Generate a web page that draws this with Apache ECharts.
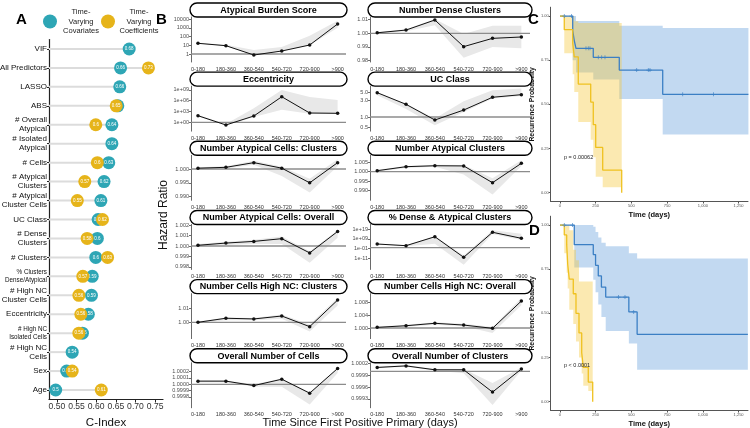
<!DOCTYPE html>
<html><head><meta charset="utf-8">
<script src="https://cdn.jsdelivr.net/npm/echarts@6/dist/echarts.min.js"></script>
<style>html,body{margin:0;padding:0;background:#fff}#c{width:750px;height:428px}</style>
</head><body><div id="c"></div><script>
// ================= DATA =================
// Panel A: C-index per predictor set
const predictors = ['VIF','All Predictors','LASSO','ABS','# Overall\nAtypical','# Isolated\nAtypical','# Cells','# Atypical\nClusters','# Atypical\nCluster Cells','UC Class','# Dense\nClusters','# Clusters','% Clusters\nDense/Atypical','# High NC\nCluster Cells','Eccentricity','# High NC\nIsolated Cells','# High NC\nCells','Sex','Age'];
const cIndexCovariates   = [0.684,0.662,0.66,0.655,0.64,0.64,0.632,0.62,0.612,0.605,0.603,0.599,0.59,0.588,0.58,0.565,0.539,0.525,0.497];
const cIndexCoefficients = [null,0.733,null,0.651,0.599,null,0.603,0.571,0.552,0.616,0.577,0.629,0.566,0.556,0.561,0.556,null,0.539,0.613];
const cIndexTicks = [0.5,0.55,0.6,0.65,0.7,0.75];

// Panel B: hazard ratios by interval
const intervals = ['0-180','180-360','360-540','540-720','720-900','>900'];
const hrABS = [16.7,8.9,0.77,2.2,10.7,2700];
const loABS = [15.8,8.5,0.74,2.1,10,1000];
const hiABS = [20,11.2,2.8,6.3,126,6300];
const ticksABS = [1,10,100,1000,10000];
const labelsABS = ['1','10','100','1000','10000'];

const hrEcc = [68,0.18,56,1.26e7,380,316];
const loEcc = [40,0.126,32,3.2e3,250,200];
const hiEcc = [126,0.316,7900,1e9,1e7,1.6e6];
const ticksEcc = [1,1e3,1e6,1e9];
const labelsEcc = ['1e+00','1e+03','1e+06','1e+09'];

const hrNACC = [1.0003,1.0006,1.0023,1.0003,0.995,1.0023];
const loNACC = [0.9998,1.0002,1.0015,0.9975,0.9915,1.001];
const hiNACC = [1.0006,1.001,1.003,1.0008,0.9965,1.0035];
const ticksNACC = [0.990,0.995,1.000];
const labelsNACC = ['0.990','0.995','1.000'];

const hrNACO = [1.00007,1.00028,1.00044,1.0007,0.99934,1.00139];
const loNACO = [0.99995,1.0001,1.0002,1.0002,0.9984,1.0008];
const hiNACO = [1.0002,1.0004,1.0006,1.0009,0.9995,1.0015];
const ticksNACO = [0.998,0.999,1.000,1.001,1.002];
const labelsNACO = ['0.998','0.999','1.000','1.001','1.002'];

const hrNCHC = [1.0,1.0029,1.0024,1.0045,0.9969,1.0159];
const loNCHC = [0.9995,1.0015,1.0015,1.0025,0.9935,1.012];
const hiNCHC = [1.0005,1.0035,1.003,1.0055,0.9985,1.0175];
const ticksNCHC = [1.00,1.01];
const labelsNCHC = ['1.00','1.01'];

const hrONC = [1.00005,1.00005,0.99998,1.00008,0.99986,1.00025];
const loONC = [1.00003,1.00003,0.99996,0.99996,0.99968,1.00018];
const hiONC = [1.00006,1.00006,1.0,1.00009,0.99988,1.00026];
const ticksONC = [0.9998,0.9999,1.0,1.0001,1.0002];
const labelsONC = ['0.9998','0.9999','1.0000','1.0001','1.0002'];

const hrNDC = [1.0004,1.0024,1.0098,0.9902,0.9963,0.9973];
const loNDC = [0.9998,1.0015,1.006,0.982,0.99,0.989];
const hiNDC = [1.001,1.003,1.0105,0.9995,1.0055,1.0055];
const ticksNDC = [0.98,0.99,1.00,1.01];
const labelsNDC = ['0.98','0.99','1.00','1.01'];

const hrUC = [4.95,2.3,0.82,1.58,3.66,4.34];
const loUC = [4.2,1.7,0.58,1.4,3.4,4.0];
const hiUC = [5.1,2.4,0.9,2.8,5.8,6.5];
const ticksUC = [0.5,1,3,5];
const labelsUC = ['0.5','1.0','3.0','5.0'];

const hrNACl = [1.00054,1.0027,1.0032,1.0031,0.99409,1.0045];
const loNACl = [1.0,1.002,1.0027,0.9985,0.9878,1.003];
const hiNACl = [1.001,1.003,1.0037,1.0036,0.9965,1.0062];
const ticksNACl = [0.990,0.995,1.000,1.005];
const labelsNACl = ['0.990','0.995','1.000','1.005'];

const hrPDA = [6.3e3,126,2e11,1.26e-10,7.9e15,5e9];
const loPDA = [2e3,32,1e4,3.2e-18,1e14,1e8];
const hiPDA = [2e4,400,1e12,1e-8,1e18,3.2e14];
const ticksPDA = [1e-11,1e-1,1e9,1e19];
const labelsPDA = ['1e-11','1e-01','1e+09','1e+19'];

const hrNCHO = [1.0002,1.0007,1.00145,1.0009,0.9999,1.0083];
const loNCHO = [0.9999,1.0004,1.001,1.0005,0.9985,1.007];
const hiNCHO = [1.0004,1.001,1.0018,1.0013,1.0003,1.0092];
const ticksNCHO = [1.000,1.004,1.008];
const labelsNCHO = ['1.000','1.004','1.008'];

const hrONCl = [1.0001,1.00014,1.00004,1.00004,0.99947,1.00006];
const loONCl = [1.00008,1.00012,1.00002,0.99995,0.99914,1.00002];
const hiONCl = [1.00012,1.00016,1.00006,1.00006,0.9997,1.0001];
const ticksONCl = [0.9993,0.9996,0.9999,1.0002];
const labelsONCl = ['0.9993','0.9996','0.9999','1.0002'];

// Panels C & D: Kaplan-Meier curves
const kmTicksX = [0,250,500,750,1000,1250];
const kmTicksY = [0,0.25,0.5,0.75,1];
const cBlueT = [0,89,100,112,233,415,719,1319];
const cBlueS = [1,0.917,0.861,0.817,0.766,0.694,0.557,0.557];
const cBlueCensor = [30,80,182,198,210,268,292,315,537,618,630,859,1074];
const cBlueBandT = [89,112,233,415,719,1319];
const cBlueBandLo = [0.75,0.68,0.64,0.53,0.33];
const cBlueBandHi = [1.0,0.972,0.972,0.945,0.932];
const cYellowT = [0,30,89,100,128,215,233,250,299,432];
const cYellowS = [1,0.923,0.846,0.769,0.615,0.513,0.385,0.256,0.128,0];
const cYellowBandT = [30,89,100,128,215,233,250,299,432];
const cYellowBandLo = [0.79,0.67,0.57,0.4,0.3,0.2,0.09,0.03];
const cYellowBandHi = [1.0,1.0,0.97,0.96,0.96,0.96,0.96,0.96];

const dBlueT = [0,100,233,249,268,290,320,482,540,1315];
const dBlueS = [1,0.889,0.833,0.772,0.712,0.649,0.592,0.508,0.381,0.381];
const dBlueCensor = [30,87,410,455,516];
const dBlueBandT = [100,233,249,268,290,320,482,540,1315];
const dBlueBandLo = [0.76,0.69,0.62,0.55,0.48,0.40,0.33,0.18];
const dBlueBandHi = [1.0,0.99,0.96,0.93,0.90,0.88,0.84,0.81];
const dYellowT = [0,30,47,54,65,93,112,133,152,163,198,229];
const dYellowS = [1,0.944,0.889,0.778,0.694,0.611,0.5,0.389,0.278,0.194,0.111,0];
const dYellowBandT = [30,47,54,65,93,112,133,152,163,198,229];
const dYellowBandLo = [0.84,0.73,0.64,0.52,0.44,0.34,0.25,0.16,0.09,0.06];
const dYellowBandHi = [1,1,1,0.97,0.86,0.8,0.68,0.68,0.68,0.68];

// ================= BUILD =================
const FONT = '"Liberation Sans", Arial, Helvetica, sans-serif';
const TEAL = '#2ea6b5', GOLD = '#e6b41a';
const KM_BLUE = '#3b7fc4', KM_YEL = '#efc11f';
const chart = echarts.init(document.getElementById('c'), null, {renderer:'canvas'});
const grids = [], xAxes = [], yAxes = [], series = [], graphics = [];

function labeler(vals, labels){
  return function(v){
    for (let i=0;i<vals.length;i++){ if (Math.abs(vals[i]-v) <= Math.abs(vals[i])*1e-7+1e-14) return labels[i]; }
    const p = Math.pow(10, v);
    for (let i=0;i<vals.length;i++){ if (Math.abs(vals[i]-p) <= Math.abs(vals[i])*1e-6) return labels[i]; }
    return '';
  };
}
function fmt2(v){ return String(Math.round(v*100)/100); }

// ---------- Panel A ----------
grids.push({left:49, top:39.5, width:114, height:360, outerBoundsMode:'none'});
xAxes.push({type:'value', gridIndex:0, min:0.48, max:0.77,
  axisLine:{show:true, onZero:false, lineStyle:{color:'#222', width:1.2}},
  axisTick:{show:true, length:3, customValues:cIndexTicks, lineStyle:{color:'#222'}},
  axisLabel:{customValues:cIndexTicks, formatter:v=>v.toFixed(2), fontSize:8.6, color:'#333', margin:3, fontFamily:FONT, hideOverlap:false},
  splitLine:{show:false},
  name:'C-Index', nameLocation:'middle', nameGap:17, nameTextStyle:{fontSize:11.5, color:'#111', fontFamily:FONT}});
yAxes.push({type:'category', gridIndex:0, data:predictors, inverse:true,
  axisLine:{show:true, onZero:false, lineStyle:{color:'#222', width:1.2}},
  axisTick:{show:true, length:2, alignWithLabel:true, lineStyle:{color:'#222'}},
  axisLabel:{fontSize:8, color:'#111', margin:2, lineHeight:9, fontFamily:FONT, interval:0,
    formatter:v=> (v.indexOf('%')===0 || v.indexOf('Isolated Cells')>0) ? '{s|'+v.split('\n').join('}\n{s|')+'}' : v,
    rich:{s:{fontSize:6.3, lineHeight:7.5, fontFamily:FONT, color:'#111', align:'right'}}},
  splitLine:{show:false}});
series.push({type:'bar', xAxisIndex:0, yAxisIndex:0, silent:true, barWidth:2, clip:true,
  data:predictors.map((_,i)=>Math.max(cIndexCovariates[i], cIndexCoefficients[i]||0)),
  itemStyle:{color:'#dcdcdc'}, z:1});
series.push({type:'scatter', name:'Time-Varying Covariates', xAxisIndex:0, yAxisIndex:0,
  data:predictors.map((_,i)=>[cIndexCovariates[i], i]), symbolSize:13, itemStyle:{color:TEAL, opacity:1}, z:3,
  label:{show:true, position:'inside', formatter:p=>fmt2(p.value[0]), fontSize:4.5, color:'#fff', fontFamily:FONT}});
series.push({type:'scatter', name:'Time-Varying Coefficients', xAxisIndex:0, yAxisIndex:0,
  data:predictors.map((_,i)=>[cIndexCoefficients[i], i]).filter(d=>d[0]!==null), symbolSize:13, itemStyle:{color:GOLD, opacity:1}, z:4,
  label:{show:true, position:'inside', formatter:p=>fmt2(p.value[0]), fontSize:4.5, color:'#fff', fontFamily:FONT}});

// ---------- Panel B ----------
const bPanels = [
  {t:'Atypical Burden Score', c:0, r:0, hr:hrABS, lo:loABS, hi:hiABS, log:true, ticks:ticksABS, labels:labelsABS, min:0.122, max:17000},
  {t:'Number Dense Clusters', c:1, r:0, hr:hrNDC, lo:loNDC, hi:hiNDC, log:false, ticks:ticksNDC, labels:labelsNDC, min:0.9789, max:1.012},
  {t:'Eccentricity', c:0, r:1, hr:hrEcc, lo:loEcc, hi:hiEcc, log:true, ticks:ticksEcc, labels:labelsEcc, min:0.00347, max:1.1e10},
  {t:'UC Class', c:1, r:1, hr:hrUC, lo:loUC, hi:hiUC, log:true, ticks:ticksUC, labels:labelsUC, min:0.394, max:7.61},
  {t:'Number Atypical Cells: Clusters', c:0, r:2, hr:hrNACC, lo:loNACC, hi:hiNACC, log:false, ticks:ticksNACC, labels:labelsNACC, min:0.98866, max:1.00496},
  {t:'Number Atypical Clusters', c:1, r:2, hr:hrNACl, lo:loNACl, hi:hiNACl, log:false, ticks:ticksNACl, labels:labelsNACl, min:0.98462, max:1.00882},
  {t:'Number Atypical Cells: Overall', c:0, r:3, hr:hrNACO, lo:loNACO, hi:hiNACO, log:false, ticks:ticksNACO, labels:labelsNACO, min:0.99776, max:1.00206},
  {t:'% Dense & Atypical Clusters', c:1, r:3, hr:hrPDA, lo:loPDA, hi:hiPDA, log:true, ticks:ticksPDA, labels:labelsPDA, min:4e-23, max:9.3e23},
  {t:'Number Cells High NC: Clusters', c:0, r:4, hr:hrNCHC, lo:loNCHC, hi:hiNCHC, log:false, ticks:ticksNCHC, labels:labelsNCHC, min:0.98836, max:1.0205},
  {t:'Number Cells High NC: Overall', c:1, r:4, hr:hrNCHO, lo:loNCHO, hi:hiNCHO, log:false, ticks:ticksNCHO, labels:labelsNCHO, min:0.99674, max:1.01058},
  {t:'Overall Number of Cells', c:0, r:5, hr:hrONC, lo:loONC, hi:hiONC, log:false, ticks:ticksONC, labels:labelsONC, min:0.99963, max:1.00034},
  {t:'Overall Number of Clusters', c:1, r:5, hr:hrONCl, lo:loONCl, hi:hiONCl, log:false, ticks:ticksONCl, labels:labelsONCl, min:0.99907, max:1.00022}
];
const colGrid = [{left:191, width:155}, {left:370, width:160}];
const colStrip = [{x:190, w:157}, {x:368, w:164}];
const xIdx = intervals.map((_,i)=>i);
bPanels.forEach(p=>{
  const g = grids.length;
  const top = 17 + 69.15*p.r;
  grids.push({left:colGrid[p.c].left, width:colGrid[p.c].width, top:top, height:45, outerBoundsMode:'none'});
  xAxes.push({type:'value', gridIndex:g, min:-0.25, max:5.3,
    axisLine:{show:false}, axisTick:{show:false}, splitLine:{show:false},
    axisLabel:{customValues:xIdx, formatter:v=>intervals[Math.round(v)], fontSize:5.5, color:'#333', margin:4, fontFamily:FONT}});
  yAxes.push({type:p.log?'log':'value', logBase:10, gridIndex:g, min:p.min, max:p.max,
    axisLine:{show:true, onZero:false, lineStyle:{color:'#444', width:0.8}},
    axisTick:{show:true, length:2, customValues:p.ticks, lineStyle:{color:'#444', width:0.8}},
    axisLabel:{customValues:p.ticks, formatter:labeler(p.ticks,p.labels), fontSize:5.5, color:'#4d4d4d', margin:2, fontFamily:FONT},
    splitLine:{show:false}, minorTick:{show:false}});
  // ribbon
  series.push({type:'custom', xAxisIndex:g, yAxisIndex:g, silent:true, z:1,
    data:[[0, p.hi[0]]],
    renderItem:(params, api)=>{
      const pts = [];
      for (let i=0;i<p.hi.length;i++) pts.push(api.coord([i, p.hi[i]]));
      for (let i=p.lo.length-1;i>=0;i--) pts.push(api.coord([i, p.lo[i]]));
      return {type:'polygon', shape:{points:pts}, style:{fill:'#e8e8e8'}};
    }});
  // reference line HR = 1
  series.push({type:'custom', xAxisIndex:g, yAxisIndex:g, silent:true, z:2,
    data:[[0, 1]],
    renderItem:(params, api)=>{
      const y = api.coord([api.value(0), api.value(1)])[1];
      const cs = params.coordSys;
      return {type:'line', shape:{x1:cs.x, y1:y, x2:cs.x+cs.width, y2:y}, style:{stroke:'#8c8c8c', lineWidth:1.3}};
    }});
  series.push({type:'line', xAxisIndex:g, yAxisIndex:g, silent:true, z:3,
    data:p.hr.map((v,i)=>[i,v]), symbol:'circle', symbolSize:3.5, showSymbol:true,
    lineStyle:{color:'#111', width:1}, itemStyle:{color:'#111'}});
  // strip
  const sy = 3 + 69.15*p.r;
  graphics.push({type:'rect', shape:{x:colStrip[p.c].x, y:sy, width:colStrip[p.c].w, height:14, r:7},
    style:{fill:'#fff', stroke:'#000', lineWidth:1.4}, z:10});
  graphics.push({type:'text', x:colStrip[p.c].x+colStrip[p.c].w/2, y:sy+7.3, z:11,
    style:{text:p.t, font:'bold 9px '+FONT, fill:'#000', textAlign:'center', textVerticalAlign:'middle'}});
});

// ---------- Panels C & D ----------
function survAt(T,S,t){ let s=S[0]; for(let i=0;i<T.length;i++){ if(T[i]<=t) s=S[i]; } return s; }
function kmPanel(top, blue, yel, pText, pY){
  const g = grids.length;
  grids.push({left:550.7, width:197.3, top:top, height:194.3, outerBoundsMode:'none'});
  xAxes.push({type:'value', gridIndex:g, min:-65, max:1316,
    axisLine:{show:true, onZero:false, lineStyle:{color:'#555', width:1}},
    axisTick:{show:true, length:2, customValues:kmTicksX, lineStyle:{color:'#555'}},
    axisLabel:{customValues:kmTicksX, fontSize:4, color:'#555', margin:2, fontFamily:FONT},
    splitLine:{show:false},
    name:'Time (days)', nameLocation:'middle', nameGap:9, nameTextStyle:{fontSize:7.5, fontWeight:'bold', color:'#111', fontFamily:FONT}});
  yAxes.push({type:'value', gridIndex:g, min:-0.05, max:1.05,
    axisLine:{show:true, onZero:false, lineStyle:{color:'#555', width:1}},
    axisTick:{show:true, length:2, customValues:kmTicksY, lineStyle:{color:'#555'}},
    axisLabel:{customValues:kmTicksY, formatter:v=>v.toFixed(2), fontSize:4, color:'#555', margin:2, fontFamily:FONT},
    splitLine:{show:false},
    name:'Recurrence Probability', nameLocation:'middle', nameGap:15, nameTextStyle:{fontSize:6.8, fontWeight:'bold', color:'#111', fontFamily:FONT}});
  const band = (b, fill, z)=>({type:'custom', xAxisIndex:g, yAxisIndex:g, silent:true, z:z,
    data:[[b.T[0], b.hi[0]]],
    renderItem:(params, api)=>{
      const pts = [];
      for (let k=0;k<b.hi.length;k++){ pts.push(api.coord([b.T[k], b.hi[k]])); pts.push(api.coord([b.T[k+1], b.hi[k]])); }
      for (let k=b.lo.length-1;k>=0;k--){ pts.push(api.coord([b.T[k+1], b.lo[k]])); pts.push(api.coord([b.T[k], b.lo[k]])); }
      return {type:'polygon', shape:{points:pts}, style:{fill:fill}};
    }});
  series.push(band(blue.band, 'rgba(120,170,225,0.45)', 1));
  series.push(band(yel.band, 'rgba(245,200,60,0.40)', 2));
  series.push({type:'line', xAxisIndex:g, yAxisIndex:g, silent:true, z:3, step:'end', symbol:'none',
    data:blue.T.map((t,i)=>[t, blue.S[i]]), lineStyle:{color:KM_BLUE, width:1.3}});
  series.push({type:'line', xAxisIndex:g, yAxisIndex:g, silent:true, z:3, step:'end', symbol:'none',
    data:yel.T.map((t,i)=>[t, yel.S[i]]), lineStyle:{color:KM_YEL, width:1.3}});
  series.push({type:'scatter', xAxisIndex:g, yAxisIndex:g, silent:true, z:4,
    data:blue.censor.map(t=>[t, survAt(blue.T, blue.S, t)]),
    symbol:'path://M2,0h1v2h2v1h-2v2h-1v-2h-2v-1h2z', symbolSize:4, itemStyle:{color:KM_BLUE}});
  graphics.push({type:'text', x:564, y:pY, z:11,
    style:{text:pText, font:'5.5px '+FONT, fill:'#222', textAlign:'left', textVerticalAlign:'middle'}});
}
kmPanel(7.2,
  {T:cBlueT, S:cBlueS, censor:cBlueCensor, band:{T:cBlueBandT, lo:cBlueBandLo, hi:cBlueBandHi}},
  {T:cYellowT, S:cYellowS, band:{T:cYellowBandT, lo:cYellowBandLo, hi:cYellowBandHi}},
  'p = 0.00062', 157.5);
kmPanel(216.2,
  {T:dBlueT, S:dBlueS, censor:dBlueCensor, band:{T:dBlueBandT, lo:dBlueBandLo, hi:dBlueBandHi}},
  {T:dYellowT, S:dYellowS, band:{T:dYellowBandT, lo:dYellowBandLo, hi:dYellowBandHi}},
  'p < 0.0001', 365.5);

// ---------- Titles / letters ----------
const letter = (t,x,y)=>({type:'text', x:x, y:y, z:12, style:{text:t, font:'bold 15px '+FONT, fill:'#000', textAlign:'left', textVerticalAlign:'middle'}});
graphics.push(letter('A',16,20), letter('B',156,20), letter('C',528,20), letter('D',529,231));
graphics.push({type:'text', x:164, y:215, rotation:Math.PI/2, z:11,
  style:{text:'Hazard Ratio', font:'12px '+FONT, fill:'#111', textAlign:'center', textVerticalAlign:'middle'}});
graphics.push({type:'text', x:360, y:423, z:11,
  style:{text:'Time Since First Positive Primary (days)', font:'11px '+FONT, fill:'#111', textAlign:'center', textVerticalAlign:'middle'}});

chart.setOption({
  animation:false,
  backgroundColor:'#fff',
  textStyle:{fontFamily:FONT},
  legend:{show:true, left:43, top:8, padding:0, icon:'circle', itemWidth:14, itemHeight:14, itemGap:1,
    data:['Time-Varying Covariates','Time-Varying Coefficients'],
    formatter:n=>'{t|'+n.replace('Time-Varying ','Time-\nVarying\n').split('\n').join('}\n{t|')+'}',
    textStyle:{rich:{t:{fontSize:7.5, lineHeight:9.5, align:'center', width:38, color:'#222', fontFamily:FONT}}},
    selectedMode:false},
  grid:grids, xAxis:xAxes, yAxis:yAxes, series:series, graphic:graphics
});
</script></body></html>
